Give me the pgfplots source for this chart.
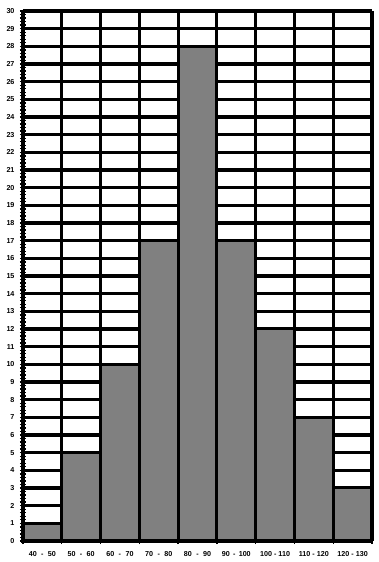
\documentclass[border=0pt]{standalone}
\usepackage{fontspec}
\setmainfont{Liberation Sans}
\usepackage{pgfplots}
\pgfplotsset{compat=1.18}
\newcommand{\ws}[1]{\hspace{#1}}
\begin{document}
\begin{tikzpicture}
\begin{axis}[
  name=ax,
  scale only axis,
  width=349bp, height=530bp,
  xmin=0, xmax=9, ymin=0, ymax=30,
  xtick={0,...,9},
  x tick label as interval,
  xticklabels={40\ws{2.4bp} - \ws{2.4bp}50,50\ws{2.4bp} - \ws{2.4bp}60,60\ws{2.4bp} - \ws{2.4bp}70,70\ws{2.4bp} - \ws{2.4bp}80,80\ws{2.4bp} - \ws{2.4bp}90,90\ws{1.3bp} - \ws{1.3bp}100,100 - 110,110 - 120,120 - 130},
  ytick={0,...,30},
  minor y tick num=4,
  tick align=center,
  major tick length=6bp,
  minor tick length=6bp,
  every tick/.style={black, line width=1.3bp},
  xmajorgrids, ymajorgrids,
  major grid style={black, line width=3.2bp},
  axis line style={black, line width=3bp},
  axis x line*=bottom,
  axis y line*=left,
  separate axis lines,
  every outer x axis line/.append style={-},
  every outer y axis line/.append style={-},
  /pgf/number format/assume math mode=true,
  tick label style={font=\fontsize{7.2}{8}\selectfont\bfseries},
  yticklabel style={xshift=-2bp},
  xticklabel style={yshift=-4bp},
  clip=false,
]
\addplot[ybar interval, fill={rgb,255:red,128;green,128;blue,128}, draw=black, line width=3bp]
  coordinates {(0,1) (1,5) (2,10) (3,17) (4,28) (5,17) (6,12) (7,7) (8,3) (9,3)};
\draw[black, line width=3bp] (rel axis cs:1,0) -- (rel axis cs:1,1);
\draw[black, line width=3.2bp] (rel axis cs:0,1) -- (rel axis cs:1,1);
\end{axis}
\path ([shift={(-23bp,-21bp)}]ax.south west) rectangle ([shift={(7bp,11bp)}]ax.north east);
\end{tikzpicture}
\end{document}
